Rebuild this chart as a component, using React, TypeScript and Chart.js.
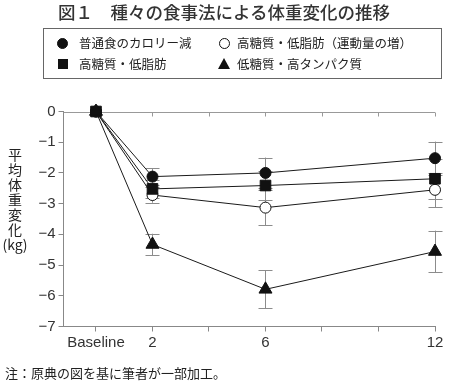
import React, { useEffect, useRef } from "react";
import { Chart, registerables } from "chart.js";

Chart.register(...registerables);

// ---- data ----
const months = [0, 2, 6, 12];
const xTickLabels: Record<number, string> = { 0: "Baseline", 2: "2", 6: "6", 12: "12" };
const xTickValues = [0, 2, 4, 6, 8, 10, 12];

const calorieCut = [0, -2.12, -2.0, -1.52];
const calorieCutErr = [0, 0.28, 0.5, 0.54];
const highCarbLowFat = [0, -2.52, -2.41, -2.19];
const highCarbLowFatErr = [0, 0.3, 0.47, 0.65];
const highCarbLowFatExercise = [0, -2.72, -3.13, -2.55];
const highCarbLowFatExerciseErr = [0, 0.25, 0.58, 0.56];
const lowCarbHighProtein = [0, -4.33, -5.79, -4.56];
const lowCarbHighProteinErr = [0, 0.35, 0.62, 0.68];

const titleText = "図１　種々の食事法による体重変化の推移";
const legendLabels = [
  "普通食のカロリー減",
  "高糖質・低脂肪（運動量の増）",
  "高糖質・低脂肪",
  "低糖質・高タンパク質",
];
const yTitleLines = ["平", "均", "体", "重", "変", "化", "(kg)"];
const footnote = "注：原典の図を基に筆者が一部加工。";

const JP = '"Noto Sans CJK JP", "Noto Sans", sans-serif';
const LAT = '"Liberation Sans", Arial, sans-serif';

const errorBarPlugin = {
  id: "errorBars",
  beforeDatasetsDraw(chart: any) {
    const ctx = chart.ctx;
    const xs = chart.scales.x;
    const ys = chart.scales.y;
    ctx.save();
    ctx.strokeStyle = "#8c8c8c";
    ctx.lineWidth = 1;
    chart.data.datasets.forEach((ds: any) => {
      const errs: number[] = ds.errors || [];
      ds.data.forEach((p: any, i: number) => {
        const e = errs[i];
        if (!e) return;
        const px = Math.round(xs.getPixelForValue(p.x)) + 0.5;
        const top = ys.getPixelForValue(p.y + e);
        const bot = ys.getPixelForValue(p.y - e);
        ctx.beginPath();
        ctx.moveTo(px, top);
        ctx.lineTo(px, bot);
        ctx.moveTo(px - 7, Math.round(top) + 0.5);
        ctx.lineTo(px + 7, Math.round(top) + 0.5);
        ctx.moveTo(px - 7, Math.round(bot) + 0.5);
        ctx.lineTo(px + 7, Math.round(bot) + 0.5);
        ctx.stroke();
      });
    });
    ctx.restore();
  },
};

const topBorderPlugin = {
  id: "topBorder",
  beforeDatasetsDraw(chart: any) {
    const ctx = chart.ctx;
    const area = chart.chartArea;
    const xs = chart.scales.x;
    ctx.save();
    ctx.strokeStyle = "#999";
    ctx.lineWidth = 1;
    const y = Math.round(area.top) + 0.5;
    ctx.beginPath();
    ctx.moveTo(area.left, y);
    ctx.lineTo(area.right, y);
    xTickValues.forEach((v) => {
      const px = Math.round(xs.getPixelForValue(v)) + 0.5;
      ctx.moveTo(px, y);
      ctx.lineTo(px, y + 4);
    });
    ctx.stroke();
    ctx.restore();
  },
};

function toPoints(vals: number[]) {
  return vals.map((v, i) => ({ x: months[i], y: v }));
}

export default function App() {
  const ref = useRef<HTMLCanvasElement>(null);

  useEffect(() => {
    const canvas = ref.current;
    if (!canvas) return;
    const line = { borderColor: "#1a1a1a", borderWidth: 1, tension: 0, pointBorderWidth: 1, clip: false };
    const chart = new Chart(canvas, {
      type: "line",
      data: {
        datasets: [
          {
            ...line,
            label: legendLabels[3],
            data: toPoints(lowCarbHighProtein),
            errors: lowCarbHighProteinErr,
            pointStyle: "triangle",
            pointRadius: 7.5,
            pointBackgroundColor: "#111",
            pointBorderColor: "#111",
          } as any,
          {
            ...line,
            label: legendLabels[0],
            data: toPoints(calorieCut),
            errors: calorieCutErr,
            pointStyle: "circle",
            pointRadius: 5.5,
            pointBackgroundColor: "#111",
            pointBorderColor: "#111",
          } as any,
          {
            ...line,
            label: legendLabels[2],
            data: toPoints(highCarbLowFat),
            errors: highCarbLowFatErr,
            pointStyle: "rect",
            pointRadius: 7.5,
            pointBackgroundColor: "#111",
            pointBorderColor: "#111",
          } as any,
          {
            ...line,
            label: legendLabels[1],
            data: toPoints(highCarbLowFatExercise),
            errors: highCarbLowFatExerciseErr,
            pointStyle: "circle",
            pointRadius: 5.5,
            pointBackgroundColor: "#fff",
            pointBorderColor: "#111",
          } as any,
        ],
      },
      options: {
        responsive: false,
        animation: false,
        devicePixelRatio: 1,
        layout: { padding: { top: 111.5, left: 0, right: 15, bottom: 0 } },
        plugins: { legend: { display: false }, tooltip: { enabled: false } },
        scales: {
          x: {
            type: "linear",
            min: -1.15,
            max: 12,
            afterBuildTicks: (s: any) => {
              s.ticks = xTickValues.map((v) => ({ value: v }));
            },
            afterFit: (s: any) => {
              s.height = 54.5;
            },
            ticks: {
              autoSkip: false,
              maxRotation: 0,
              padding: 2,
              color: "#333",
              font: { family: LAT, size: 15 },
              callback: (v: any) => xTickLabels[v as number] ?? "",
            },
            grid: { drawOnChartArea: false, drawTicks: true, tickLength: 5, color: "#888" },
            border: { color: "#888", width: 1 },
          },
          y: {
            min: -7,
            max: 0,
            afterFit: (s: any) => {
              s.width = 63.5;
            },
            ticks: {
              stepSize: 1,
              padding: 3,
              color: "#333",
              font: { family: LAT, size: 15 },
              callback: (v: any) => (v === 0 ? "0" : "\u2212" + Math.abs(v as number)),
            },
            grid: { drawOnChartArea: false, drawTicks: true, tickLength: 5, color: "#888" },
            border: { color: "#888", width: 1 },
          },
        },
      } as any,
      plugins: [errorBarPlugin, topBorderPlugin],
    });
    return () => chart.destroy();
  }, []);

  const sym = (kind: string, cx: number, cy: number) => {
    const base: React.CSSProperties = { position: "absolute", boxSizing: "border-box" };
    if (kind === "circle" || kind === "open") {
      return (
        <div
          style={{
            ...base,
            left: cx - 5.5,
            top: cy - 5.5,
            width: 11,
            height: 11,
            borderRadius: "50%",
            background: kind === "circle" ? "#111" : "#fff",
            border: "1px solid #111",
          }}
        />
      );
    }
    if (kind === "square") {
      return <div style={{ ...base, left: cx - 5, top: cy - 5, width: 10, height: 10, background: "#111" }} />;
    }
    return (
      <div
        style={{
          ...base,
          left: cx - 6.5,
          top: cy - 6,
          width: 0,
          height: 0,
          borderLeft: "6.5px solid transparent",
          borderRight: "6.5px solid transparent",
          borderBottom: "11px solid #111",
        }}
      />
    );
  };

  const legendText = (text: string, left: number, cy: number) => (
    <div
      style={{
        position: "absolute",
        left,
        top: cy - 9,
        height: 18,
        lineHeight: "18px",
        fontFamily: JP,
        fontSize: 12.5,
        color: "#222",
        whiteSpace: "nowrap",
      }}
    >
      {text}
    </div>
  );

  return (
    <div
      style={{
        position: "absolute",
        left: 0,
        top: 0,
        width: 450,
        height: 381,
        background: "#fff",
        overflow: "hidden",
      }}
    >
      <canvas ref={ref} width={450} height={381} style={{ position: "absolute", left: 0, top: 0, width: 450, height: 381 }} />
      <div
        style={{
          position: "absolute",
          left: 58,
          top: 2,
          fontFamily: JP,
          fontSize: 17.5,
          lineHeight: "20px",
          fontWeight: 500,
          color: "#333",
          whiteSpace: "nowrap",
        }}
      >
        {titleText}
      </div>
      <div
        style={{
          position: "absolute",
          left: 43,
          top: 28,
          width: 399,
          height: 51,
          boxSizing: "border-box",
          border: "1px solid #666",
        }}
      />
      {sym("circle", 62.5, 43)}
      {legendText(legendLabels[0], 79, 43)}
      {sym("open", 224, 43)}
      {legendText(legendLabels[1], 237, 43)}
      {sym("square", 63, 64)}
      {legendText(legendLabels[2], 79, 64)}
      {sym("triangle", 224, 64)}
      {legendText(legendLabels[3], 237, 64)}
      <div
        style={{
          position: "absolute",
          left: 0,
          top: 147,
          width: 30,
          textAlign: "center",
          fontFamily: JP,
          fontSize: 14,
          lineHeight: "15px",
          color: "#222",
        }}
      >
        {yTitleLines.map((c, i) => (
          <div key={i}>{c}</div>
        ))}
      </div>
      <div
        style={{
          position: "absolute",
          left: 5,
          top: 364,
          lineHeight: "18px",
          fontFamily: JP,
          fontSize: 13,
          color: "#222",
          whiteSpace: "nowrap",
        }}
      >
        {footnote}
      </div>
    </div>
  );
}
